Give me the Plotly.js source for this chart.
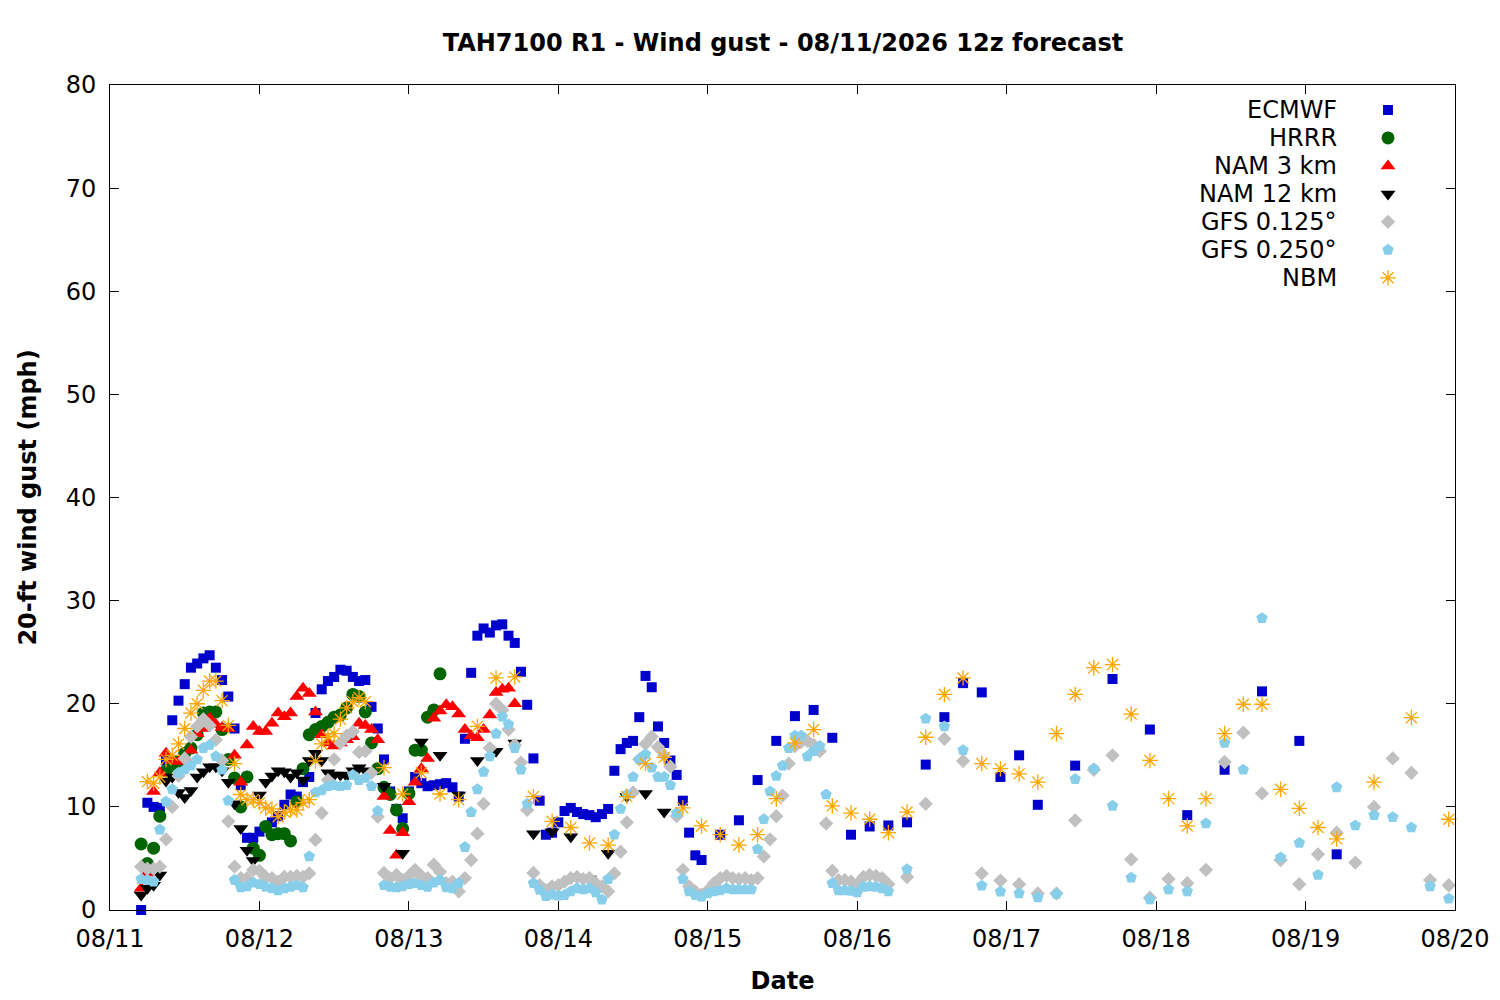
<!DOCTYPE html>
<html>
<head>
<meta charset="utf-8">
<script src="https://cdn.plot.ly/plotly-3.0.1.min.js"></script>
<style>
  html, body { margin: 0; padding: 0; background: #fff; }
  #chart { width: 1500px; height: 1000px; }
</style>
</head>
<body>
<div id="chart"></div>
<script>
// forecast hours counted from 08/11 00:00
function steps(start, end, step) {
  var out = [];
  for (var h = start; h <= end; h += step) out.push(h);
  return out;
}

var ecmwfHours = steps(5, 95, 1).concat(steps(98, 149, 3), steps(155, 197, 6));
var ecmwfGust = [
  0, 10.4, 10.0, 9.9, 14.5, 18.4, 20.3, 21.9, 23.5, 23.9,
  24.4, 24.7, 23.5, 22.3, 20.7, 17.6, 12.1, 7.0, 7.0, 7.6,
  8.0, 8.5, 9.1, 10.2, 11.2, 11.0, 12.4, 12.9, 19.1, 21.4,
  22.2, 22.6, 23.3, 23.2, 22.6, 22.2, 22.3, 19.7, 17.6, 14.6,
  11.5, 9.8, 8.9, 11.5, 12.9, 12.3, 12.0, 12.1, 12.2, 12.3,
  11.9, 11.0, 16.6, 23.0, 26.6, 27.3, 26.9, 27.6, 27.7, 26.6,
  25.9, 23.1, 19.9, 14.7, 10.6, 7.3, 7.5, 8.5, 9.6, 9.9,
  9.5, 9.3, 9.2, 9.0, 9.3, 9.8, 13.5, 15.6, 16.2, 16.4,
  18.7, 22.7, 21.6, 17.8, 16.2, 14.5, 13.1, 10.6, 7.5, 5.3,
  4.85,
  7.3, 8.7, 12.6, 16.4, 18.8, 19.4, 16.7, 7.3, 8.1, 8.2,
  8.5, 14.1, 18.7, 22.0, 21.1, 12.9, 15.0, 10.2,
  14.0, 22.4, 17.5, 9.2, 13.6, 21.2, 16.4, 5.4
];

var hrrrHours = steps(5, 53, 1);
var hrrrGust = [
  6.4, 4.5, 6.0, 9.1, 13.5, 14.0, 14.4, 15.2, 15.7, 17.0,
  19.1, 19.2, 19.2, 17.5, 14.6, 12.8, 10.0, 12.9, 6.0, 5.3,
  8.1, 7.3, 7.4, 7.4, 6.7, 10.5, 13.7, 17.0, 17.5, 17.8,
  18.2, 18.7, 18.9, 19.6, 20.9, 20.7, 19.2, 16.2, 13.7, 11.9,
  11.2, 9.7, 7.9, 11.3, 15.5, 15.5, 18.7, 19.4, 22.9
];

var nam3Hours = steps(5, 65, 1);
var nam3Gust = [
  2.1, 3.6, 11.5, 13.3, 15.2, 14.5, 14.4, 14.8, 15.5, 17.1,
  17.6, 18.6, 18.0, 17.7, 17.6, 15.0, 12.4, 16.0, 17.8, 17.3,
  17.3, 18.1, 19.1, 18.75, 19.1, 20.7, 21.5, 21.0, 19.2, 17.0,
  16.2, 15.9, 16.2, 16.5, 16.8, 18.1, 17.9, 17.5, 16.5, 11.0,
  7.7, 5.3, 7.5, 10.5, 12.4, 13.7, 14.7, 18.6, 19.3, 19.9,
  19.7, 19.0, 17.5, 16.9, 16.7, 17.5, 18.9, 21.1, 21.4, 21.5, 20.0
];

var nam12Hours = steps(5, 41, 1).concat(steps(44, 89, 3));
var nam12Gust = [
  1.45, 2.1, 2.4, 3.4, 12.5, 12.9, 11.4, 10.9, 11.6, 12.9,
  13.4, 13.9, 13.9, 13.5, 12.4, 10.3, 7.9, 5.8, 4.8, 11.15,
  12.4, 13.0, 13.5, 13.4, 12.9, 13.3, 12.6, 14.5, 15.2, 14.5,
  13.3, 13.1, 13.1, 13.0, 13.5, 13.8, 13.5,
  12.0, 5.5, 16.3, 15.0, 11.15, 14.5, 15.4, 16.2, 7.4, 7.6,
  7.1, 3.0, 5.5, 11.0, 11.3, 9.5
];

var gfs125Hours = steps(5, 125, 1).concat(steps(128, 215, 3));
var gfs125Gust = [
  4.2, 4.0, 4.0, 4.2, 6.85, 10.0, 13.0, 14.7, 16.8, 17.8,
  18.5, 17.9, 16.5, 14.5, 8.6, 4.2, 3.1, 3.1, 3.9, 3.8,
  3.2, 3.1, 2.75, 3.2, 3.2, 3.3, 3.2, 3.55, 6.8, 9.4,
  12.6, 14.6, 16.2, 16.9, 17.3, 15.3, 15.4, 13.3, 9.05, 3.6,
  3.1, 3.4, 2.9, 3.3, 3.9, 3.3, 3.1, 4.4, 3.7, 2.6,
  2.75, 1.8, 3.1, 4.85, 7.4, 10.3, 15.7, 20.0, 19.4, 17.5,
  16.0, 14.3, 9.7, 3.6, 2.4, 1.9, 2.3, 2.4, 2.75, 3.1,
  3.2, 3.0, 3.1, 2.6, 2.3, 1.8, 3.55, 5.65, 8.5, 11.4,
  14.6, 16.1, 16.8, 15.8, 15.0, 13.9, 9.1, 3.9, 2.3, 1.8,
  1.5, 1.9, 2.6, 3.1, 3.3, 3.1, 3.0, 3.1, 2.9, 3.1,
  5.2, 6.85, 9.1, 11.1, 14.2, 15.9, 16.3, 16.4, 16.0, 15.4,
  8.4, 3.8, 2.9, 2.9, 2.75, 2.5, 3.2, 3.4, 3.3, 3.1, 2.5,
  3.2, 10.3, 16.6, 14.45, 3.55, 2.85, 2.5, 1.6, 1.6, 8.7,
  13.6, 15.0, 4.9, 1.2, 3.0, 2.6, 3.9, 14.35, 17.2, 11.3,
  4.85, 2.5, 5.4, 7.5, 4.6, 10.0, 14.7, 13.3, 2.9, 2.4
];

var gfs250Hours = steps(5, 125, 1).concat(steps(128, 215, 3));
var gfs250Gust = [
  3.0, 2.9, 2.75, 7.8, 10.5, 11.7, 13.3, 13.6, 14.0, 14.6,
  15.7, 16.0, 14.9, 13.6, 10.6, 2.9, 2.2, 2.3, 2.65, 2.5,
  2.25, 2.1, 1.9, 2.1, 2.25, 2.4, 2.2, 5.2, 11.4, 11.6,
  12.0, 12.1, 12.0, 12.1, 13.1, 12.6, 12.8, 12.0, 9.6, 2.4,
  2.25, 2.2, 2.3, 2.5, 2.6, 2.4, 2.25, 2.65, 2.9, 2.2,
  2.1, 2.6, 6.1, 9.5, 11.7, 13.4, 14.9, 17.1, 18.75, 18.0,
  15.7, 13.6, 10.3, 2.6, 1.95, 1.35, 1.5, 1.4, 1.45, 1.8,
  2.1, 2.0, 2.1, 1.7, 1.0, 3.0, 7.3, 9.8, 11.2, 12.9,
  14.6, 15.1, 13.8, 12.9, 12.9, 12.1, 9.4, 3.0, 1.8, 1.45,
  1.3, 1.6, 1.8, 1.9, 2.1, 2.0, 2.0, 2.0, 2.0, 5.9,
  8.8, 11.5, 13.0, 14.0, 15.7, 16.9, 16.9, 14.9, 15.4, 15.9,
  11.2, 2.6, 1.9, 1.9, 1.85, 1.7, 2.25, 2.3, 2.25, 2.1, 1.8,
  3.95, 18.55, 17.8, 15.5, 2.36, 1.78, 1.62, 1.23, 1.55, 12.7,
  13.7, 10.1, 3.13, 1.03, 2.0, 1.8, 8.4, 16.2, 13.6, 28.3,
  5.1, 6.5, 3.4, 11.9, 8.2, 9.2, 9.0, 8.0, 2.3, 1.1
];

var nbmHours = steps(6, 41, 1).concat(steps(44, 197, 3), steps(203, 215, 6));
var nbmGust = [
  12.45, 12.3, 12.9, 14.6, 15.0, 16.1, 17.6, 19.1, 20.0, 21.3,
  22.2, 22.2, 20.3, 17.9, 14.2, 11.2, 10.7, 10.7, 10.4, 9.9,
  9.8, 9.05, 9.5, 9.7, 9.7, 10.4, 10.7, 14.45, 16.1, 16.8,
  17.1, 18.5, 19.6, 20.2, 20.6, 20.2,
  13.8, 11.25, 13.3, 11.25, 10.7, 17.8, 22.5, 22.6, 11.0, 8.6,
  8.0, 6.5, 6.3, 11.0, 14.2, 14.8, 9.9, 8.15, 7.3, 6.3,
  7.3, 10.8, 16.2, 17.5, 10.1, 9.4, 8.8, 7.5, 9.5, 16.75,
  20.9, 22.5, 14.2, 13.7, 13.2, 12.4, 17.1, 20.9, 23.5, 23.8,
  19.0, 14.5, 10.8, 8.15, 10.8, 17.1, 19.95, 19.95, 11.7, 9.86,
  8.0, 6.9,
  12.4, 18.65, 8.8
];

var modelNames = ['ECMWF', 'HRRR', 'NAM 3 km', 'NAM 12 km', 'GFS 0.125°', 'GFS 0.250°', 'NBM'];

var base = Date.UTC(2026, 7, 11);
function toDate(h) {
  return new Date(base + h * 3600000).toISOString().slice(0, 19).replace('T', ' ');
}

var FONT = 'DejaVu Sans, Liberation Sans, sans-serif';
var FS = 24;

var styles = [
  {symbol: 'square', color: '#0000cc', size: 10},
  {symbol: 'circle', color: '#006400', size: 13},
  {symbol: 'triangle-up', color: '#ff0000', size: 13},
  {symbol: 'triangle-down', color: '#000000', size: 13},
  {symbol: 'diamond', color: '#c0c0c0', size: 11},
  {symbol: 'pentagon', color: '#87ceeb', size: 12},
  {symbol: 'asterisk-open', color: '#ffa500', size: 13}
];

var series = [
  [ecmwfHours, ecmwfGust],
  [hrrrHours, hrrrGust],
  [nam3Hours, nam3Gust],
  [nam12Hours, nam12Gust],
  [gfs125Hours, gfs125Gust],
  [gfs250Hours, gfs250Gust],
  [nbmHours, nbmGust]
];

function markerFor(st) {
  var m = {symbol: st.symbol, color: st.color, size: st.size};
  if (st.symbol === 'asterisk-open') m.line = {color: st.color, width: 1.3};
  else m.line = {width: 0};
  return m;
}

var traces = [];
series.forEach(function (s, i) {
  traces.push({
    type: 'scatter',
    mode: 'markers',
    name: modelNames[i],
    x: s[0].map(toDate),
    y: s[1],
    marker: markerFor(styles[i]),
    cliponaxis: false,
    showlegend: false,
    hoverinfo: 'x+y+name'
  });
});

// key in the top right corner: text right aligned, symbol after it
var annotations = [];
var keyTop = 0.9697, keyStep = 0.0339;
modelNames.forEach(function (name, i) {
  var yy = keyTop - i * keyStep;
  annotations.push({
    xref: 'paper', yref: 'paper', x: 0.9135, y: yy,
    xanchor: 'right', yanchor: 'middle', showarrow: false,
    text: name, font: {family: FONT, size: FS, color: '#000'}
  });
  traces.push({
    type: 'scatter', mode: 'markers', xaxis: 'x2', yaxis: 'y2',
    x: [0.9502], y: [yy], marker: markerFor(styles[i]),
    showlegend: false, hoverinfo: 'skip', cliponaxis: false
  });
});

var layout = {
  width: 1500,
  height: 1000,
  margin: {l: 110, r: 45, t: 85, b: 90},
  paper_bgcolor: '#fff',
  plot_bgcolor: '#fff',
  font: {family: FONT, size: FS, color: '#000'},
  title: {
    text: 'TAH7100 R1 - Wind gust - 08/11/2026 12z forecast',
    font: {family: FONT, size: FS, weight: 'bold', color: '#000'},
    x: 0.522, xanchor: 'center', y: 0.957, yref: 'container', yanchor: 'middle'
  },
  showlegend: false,
  xaxis: {
    type: 'date',
    range: ['2026-08-11 00:00', '2026-08-20 00:00'],
    dtick: 86400000,
    tick0: '2026-08-11',
    tickformat: '%m/%d',
    ticks: 'inside', ticklen: 9, tickcolor: '#000', tickwidth: 1,
    ticklabelstandoff: 7,
    showline: true, linecolor: '#000', linewidth: 1, mirror: 'ticks',
    showgrid: false, zeroline: false,
    tickfont: {family: FONT, size: FS},
    title: {text: 'Date', font: {family: FONT, size: FS, weight: 'bold'}, standoff: 20}
  },
  yaxis: {
    range: [0, 80],
    dtick: 10,
    ticks: 'inside', ticklen: 9, tickcolor: '#000', tickwidth: 1,
    ticklabelstandoff: 8,
    showline: true, linecolor: '#000', linewidth: 1, mirror: 'ticks',
    showgrid: false, zeroline: false,
    tickfont: {family: FONT, size: FS},
    title: {text: '20-ft wind gust (mph)', font: {family: FONT, size: FS, weight: 'bold'}, standoff: 22}
  },
  xaxis2: {overlaying: 'x', range: [0, 1], visible: false, fixedrange: true},
  yaxis2: {overlaying: 'y', range: [0, 1], visible: false, fixedrange: true},
  annotations: annotations
};

Plotly.newPlot('chart', traces, layout, {displayModeBar: false, staticPlot: true});
</script>
</body>
</html>
